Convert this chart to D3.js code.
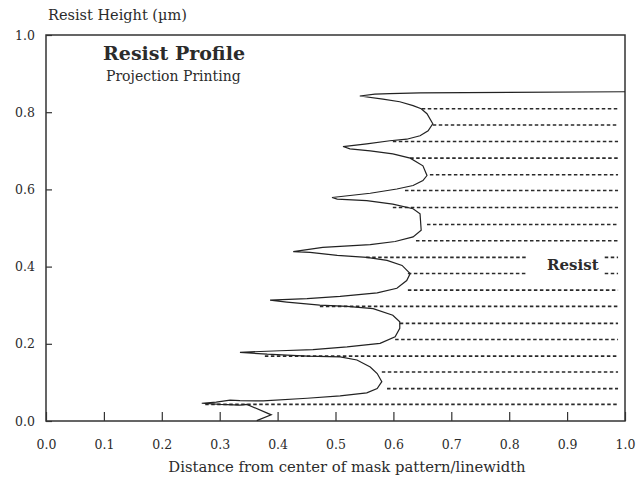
<!DOCTYPE html>
<html>
<head>
<meta charset="utf-8">
<script src="https://cdn.jsdelivr.net/npm/d3@7"></script>
<style>
  body { margin: 0; background: #fff; }
  svg { display: block; }
  text { font-family: "DejaVu Serif", serif; fill: #2b2b2b; }
</style>
</head>
<body>
<div id="chart"></div>
<script>
// tick labels
const xTickValues = [0.0, 0.1, 0.2, 0.3, 0.4, 0.5, 0.6, 0.7, 0.8, 0.9, 1.0];
const yTickValues = [0.0, 0.2, 0.4, 0.6, 0.8, 1.0];

// resist profile outline, traced top to bottom (x = distance/linewidth, y = height in um)
const profileX = [1.0, 0.646, 0.594, 0.568, 0.542, 0.582, 0.611, 0.634, 0.648, 0.658, 0.668, 0.660, 0.646, 0.623, 0.594, 0.554,
  0.513, 0.525, 0.560, 0.599, 0.629, 0.651, 0.658, 0.651, 0.634, 0.606, 0.560,
  0.494, 0.503, 0.554, 0.599, 0.634, 0.646, 0.648, 0.634, 0.603, 0.560, 0.478,
  0.427, 0.456, 0.503, 0.554, 0.589, 0.615, 0.629, 0.623, 0.606, 0.572, 0.508, 0.451,
  0.387, 0.416, 0.473, 0.520, 0.565, 0.599, 0.611, 0.611, 0.603, 0.577, 0.520, 0.461, 0.404,
  0.335, 0.382, 0.451, 0.508, 0.537, 0.560, 0.572, 0.580, 0.572, 0.554, 0.508, 0.451, 0.375, 0.335, 0.318, 0.294,
  0.269, 0.301, 0.335, 0.347, 0.389, 0.364];
const profileY = [0.853, 0.850, 0.848, 0.847, 0.842, 0.834, 0.827, 0.817, 0.809, 0.796, 0.770, 0.752, 0.739, 0.730, 0.726, 0.718,
  0.711, 0.705, 0.700, 0.692, 0.681, 0.661, 0.636, 0.623, 0.610, 0.601, 0.590,
  0.579, 0.575, 0.571, 0.562, 0.550, 0.537, 0.494, 0.477, 0.465, 0.457, 0.450,
  0.439, 0.437, 0.429, 0.424, 0.416, 0.403, 0.382, 0.364, 0.344, 0.332, 0.323, 0.317,
  0.313, 0.308, 0.300, 0.297, 0.291, 0.274, 0.257, 0.240, 0.218, 0.201, 0.192, 0.185, 0.182,
  0.178, 0.173, 0.168, 0.166, 0.158, 0.140, 0.123, 0.102, 0.084, 0.073, 0.065, 0.059, 0.052, 0.053, 0.054, 0.049,
  0.046, 0.043, 0.041, 0.043, 0.016, 0.001];

// dashed hatch lines filling the resist
const hatchHeights = [0.809, 0.767, 0.724, 0.681, 0.638, 0.597, 0.553, 0.509, 0.467, 0.424,
  0.382, 0.339, 0.297, 0.253, 0.211, 0.168, 0.127, 0.084, 0.043];
const hatchStarts = [0.649, 0.668, 0.599, 0.629, 0.663, 0.620, 0.599, 0.658, 0.639, 0.553,
  0.625, 0.625, 0.473, 0.611, 0.603, 0.378, 0.580, 0.589, 0.275];
const hatchEnd = 0.988;
const labelGap = [0.832, 0.965]; // hatch lines broken around the "Resist" label

const width = 643, height = 481;
const margin = { left: 46, right: 18, top: 35, bottom: 60 };

const svg = d3.select('#chart')
  .append('svg')
  .attr('width', width)
  .attr('height', height);

const x = d3.scaleLinear().domain([0, 1]).range([margin.left, width - margin.right]);
const y = d3.scaleLinear().domain([0, 1]).range([height - margin.bottom, margin.top]);

// axes with inward ticks
const xAxis = svg.append('g')
  .attr('transform', `translate(0,${y(0)})`)
  .call(d3.axisBottom(x).tickValues(xTickValues).tickFormat(d3.format('.1f'))
    .tickSize(-9).tickSizeOuter(0).tickPadding(19));
const yAxis = svg.append('g')
  .attr('transform', `translate(${x(0)},0)`)
  .call(d3.axisLeft(y).tickValues(yTickValues).tickFormat(d3.format('.1f'))
    .tickSize(-6).tickSizeOuter(0).tickPadding(11));

[xAxis, yAxis].forEach(a => {
  a.select('.domain').remove();
  a.selectAll('line').attr('stroke', '#333').attr('stroke-width', 1.2);
  a.selectAll('text').attr('font-family', '"DejaVu Serif", serif').attr('font-size', 12.5).attr('fill', '#2b2b2b');
});

// frame
svg.append('rect')
  .attr('x', x(0)).attr('y', y(1))
  .attr('width', x(1) - x(0)).attr('height', y(0) - y(1))
  .attr('fill', 'none').attr('stroke', '#333').attr('stroke-width', 1.5);

// hatch lines
const hatch = hatchHeights.flatMap((h, i) => {
  if (i === 9 || i === 10) {
    return [[hatchStarts[i], labelGap[0], h], [labelGap[1], hatchEnd, h]];
  }
  return [[hatchStarts[i], hatchEnd, h]];
});

svg.append('g').selectAll('line')
  .data(hatch)
  .enter()
  .append('line')
  .attr('x1', d => x(d[0]))
  .attr('x2', d => x(d[1]))
  .attr('y1', d => y(d[2]))
  .attr('y2', d => y(d[2]))
  .attr('stroke', '#2a2a2a')
  .attr('stroke-width', 1.6)
  .attr('stroke-dasharray', '3.5,2.5');

// profile outline
const line = d3.line()
  .x(d => x(d[0]))
  .y(d => y(d[1]));

svg.append('path')
  .datum(profileX.map((v, i) => [v, profileY[i]]))
  .attr('d', line)
  .attr('fill', 'none')
  .attr('stroke', '#222')
  .attr('stroke-width', 1.2)
  .attr('stroke-linejoin', 'miter');

// texts
svg.append('text')
  .attr('x', 48).attr('y', 20)
  .attr('font-size', 14.5)
  .text('Resist Height (µm)');

svg.append('text')
  .attr('x', 103).attr('y', 60)
  .attr('font-size', 19)
  .attr('font-weight', 'bold')
  .text('Resist Profile');

svg.append('text')
  .attr('x', 106).attr('y', 81)
  .attr('font-size', 14)
  .text('Projection Printing');

svg.append('text')
  .attr('x', x(0.91))
  .attr('y', y(0.403) + 5)
  .attr('text-anchor', 'middle')
  .attr('font-size', 15)
  .attr('font-weight', 'bold')
  .text('Resist');

svg.append('text')
  .attr('x', 347)
  .attr('y', 472)
  .attr('text-anchor', 'middle')
  .attr('font-size', 14.8)
  .text('Distance from center of mask pattern/linewidth');
</script>
</body>
</html>
